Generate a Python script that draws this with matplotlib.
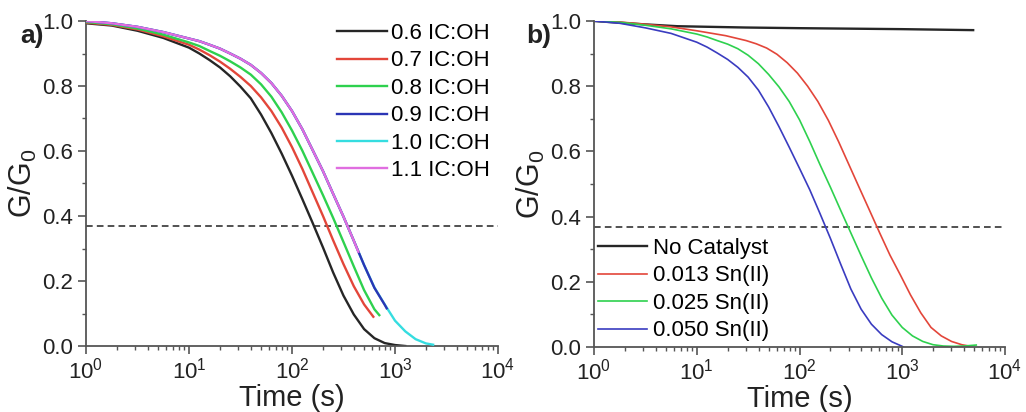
import matplotlib
matplotlib.use("Agg")
import matplotlib.pyplot as plt
from matplotlib.ticker import LogLocator, MultipleLocator, LogFormatterSciNotation, NullFormatter

plt.rcParams['font.family'] = ['Liberation Sans', 'DejaVu Sans']
plt.rcParams['mathtext.fontset'] = 'custom'
plt.rcParams['mathtext.rm'] = 'Liberation Sans'
plt.rcParams['mathtext.it'] = 'Liberation Sans:italic'

# ---------------- Panel a data (time in s, G/G0) ----------------
t_06 = [1, 1.78, 3.16, 5.62, 10, 12.6, 15.8, 20, 25.1, 31.6, 39.8, 50.1, 63.1, 79.4, 100, 126, 158, 200, 251, 316, 398, 501, 631, 794, 1000, 1259]
g_06 = [0.993, 0.986, 0.970, 0.948, 0.918, 0.900, 0.880, 0.857, 0.830, 0.798, 0.762, 0.712, 0.655, 0.592, 0.524, 0.452, 0.380, 0.303, 0.226, 0.155, 0.097, 0.052, 0.024, 0.009, 0.003, 0.0]

t_07 = [1, 1.78, 3.16, 5.62, 10, 12.6, 15.8, 20, 25.1, 31.6, 39.8, 50.1, 63.1, 79.4, 100, 126, 158, 200, 251, 316, 398, 501, 616]
g_07 = [0.995, 0.988, 0.974, 0.953, 0.927, 0.912, 0.895, 0.875, 0.853, 0.828, 0.800, 0.765, 0.723, 0.672, 0.612, 0.545, 0.474, 0.400, 0.325, 0.252, 0.184, 0.128, 0.090]

t_08 = [1, 1.78, 3.16, 5.62, 10, 12.6, 15.8, 20, 25.1, 31.6, 39.8, 50.1, 63.1, 79.4, 100, 126, 158, 200, 251, 316, 398, 501, 631, 704]
g_08 = [0.997, 0.990, 0.977, 0.958, 0.934, 0.923, 0.908, 0.893, 0.876, 0.857, 0.835, 0.805, 0.767, 0.719, 0.663, 0.601, 0.534, 0.464, 0.394, 0.320, 0.245, 0.172, 0.113, 0.095]

t_09 = [1, 1.78, 3.16, 5.62, 10, 12.6, 15.8, 20, 25.1, 31.6, 39.8, 50.1, 63.1, 79.4, 100, 126, 158, 200, 251, 316, 398, 501, 631, 794, 830]
g_09 = [1.0, 0.993, 0.982, 0.966, 0.946, 0.938, 0.927, 0.915, 0.900, 0.884, 0.865, 0.840, 0.809, 0.770, 0.723, 0.667, 0.604, 0.538, 0.468, 0.398, 0.324, 0.249, 0.179, 0.127, 0.116]

t_10 = [1, 1.78, 3.16, 5.62, 10, 12.6, 15.8, 20, 25.1, 31.6, 39.8, 50.1, 63.1, 79.4, 100, 126, 158, 200, 251, 316, 398, 501, 631, 794, 1000, 1259, 1585, 1995, 2344]
g_10 = [1.0, 0.993, 0.982, 0.966, 0.946, 0.938, 0.927, 0.915, 0.900, 0.884, 0.865, 0.840, 0.809, 0.770, 0.723, 0.667, 0.604, 0.538, 0.468, 0.398, 0.324, 0.249, 0.180, 0.128, 0.078, 0.045, 0.021, 0.008, 0.004]

t_11 = [1, 1.78, 3.16, 5.62, 10, 12.6, 15.8, 20, 25.1, 31.6, 39.8, 50.1, 63.1, 79.4, 100, 126, 158, 200, 251, 316, 398, 440]
g_11 = [1.0, 0.993, 0.982, 0.966, 0.946, 0.938, 0.927, 0.915, 0.900, 0.884, 0.865, 0.840, 0.809, 0.770, 0.723, 0.667, 0.604, 0.538, 0.468, 0.398, 0.324, 0.290]

labels_a = ["0.6 IC:OH", "0.7 IC:OH", "0.8 IC:OH", "0.9 IC:OH", "1.0 IC:OH", "1.1 IC:OH"]
colors_a = ["#262626", "#e3463a", "#2ed14e", "#2b35b5", "#35dde0", "#e06ee0"]

# ---------------- Panel b data ----------------
t_nocat = [1, 3, 6.5, 30, 100, 1000, 4900]
g_nocat = [1.0, 0.990, 0.984, 0.980, 0.978, 0.975, 0.972]

t_013 = [1, 1.78, 3.16, 5.62, 10, 19.1, 30.2, 38, 47.9, 60.3, 75.9, 95.5, 120, 151, 191, 240, 302, 380, 479, 603, 759, 955, 1202, 1514, 1905, 2399, 3020, 3802, 4467]
g_013 = [1.0, 0.997, 0.990, 0.982, 0.970, 0.955, 0.940, 0.930, 0.917, 0.898, 0.872, 0.840, 0.800, 0.753, 0.695, 0.630, 0.560, 0.490, 0.420, 0.350, 0.282, 0.222, 0.160, 0.105, 0.060, 0.034, 0.017, 0.007, 0.003]

t_025 = [1, 1.78, 3.16, 5.62, 10, 12.6, 15.8, 20, 25.1, 31.6, 39.8, 50.1, 63.1, 79.4, 100, 126, 158, 200, 251, 316, 398, 501, 631, 794, 1000, 1259, 1585, 1995, 2512, 3162, 3981, 5250]
g_025 = [1.0, 0.996, 0.987, 0.976, 0.960, 0.951, 0.940, 0.929, 0.915, 0.895, 0.869, 0.836, 0.798, 0.753, 0.697, 0.630, 0.560, 0.490, 0.420, 0.350, 0.280, 0.212, 0.150, 0.098, 0.060, 0.034, 0.017, 0.007, 0.003, 0.002, 0.003, 0.006]

t_050 = [1, 1.78, 3.16, 5.62, 10, 12.6, 15.8, 20, 25.1, 31.6, 39.8, 50.1, 63.1, 79.4, 100, 126, 158, 200, 251, 316, 398, 501, 631, 794, 1000, 1023]
g_050 = [1.0, 0.993, 0.979, 0.962, 0.935, 0.920, 0.902, 0.882, 0.858, 0.828, 0.788, 0.736, 0.676, 0.613, 0.548, 0.482, 0.410, 0.333, 0.255, 0.178, 0.116, 0.070, 0.038, 0.016, 0.002, 0.0]

labels_b = ["No Catalyst", "0.013 Sn(II)", "0.025 Sn(II)", "0.050 Sn(II)"]
colors_b = ["#262626", "#e3463a", "#2ed14e", "#3a3cc0"]

threshold = 0.368

fig = plt.figure(figsize=(10.26, 4.12), dpi=100)
ax1 = fig.add_axes([86/1026, 1-346/412, (498-86)/1026, (346-21)/412])
ax2 = fig.add_axes([594/1026, 1-347/412, (1005-594)/1026, (347-21)/412])

series_a = [(t_06, g_06), (t_07, g_07), (t_08, g_08), (t_09, g_09), (t_10, g_10), (t_11, g_11)]
zorders_a = [2, 3, 4, 6, 5, 7]
handles_a = []
for (t, g), c, lab, z in zip(series_a, colors_a, labels_a, zorders_a):
    h, = ax1.plot(t, g, color=c, lw=1.7, label=lab, zorder=z)
    handles_a.append(h)

series_b = [(t_nocat, g_nocat), (t_013, g_013), (t_025, g_025), (t_050, g_050)]
handles_b = []
for (t, g), c, lab in zip(series_b, colors_b, labels_b):
    lw = 1.7 if lab == "No Catalyst" else 1.2
    h, = ax2.plot(t, g, color=c, lw=lw, label=lab)
    handles_b.append(h)

for ax in (ax1, ax2):
    ax.axhline(threshold, color="#333333", lw=1.2, ls=(0, (4, 2.5)), zorder=1)
    ax.set_xscale("log")
    ax.set_xlim(1, 1e4)
    ax.set_ylim(0, 1.0)
    ax.spines["top"].set_visible(False)
    ax.spines["right"].set_visible(False)
    for s in ("left", "bottom"):
        ax.spines[s].set_color("#555555")
        ax.spines[s].set_linewidth(1.3)
    ax.xaxis.set_major_locator(LogLocator(base=10, numticks=10))
    ax.xaxis.set_minor_locator(LogLocator(base=10, subs=range(2, 10), numticks=20))
    ax.xaxis.set_major_formatter(LogFormatterSciNotation())
    ax.xaxis.set_minor_formatter(NullFormatter())
    ax.yaxis.set_major_locator(MultipleLocator(0.2))
    ax.yaxis.set_minor_locator(MultipleLocator(0.1))
    ax.yaxis.set_major_formatter(plt.FuncFormatter(lambda v, p: f"{v:.1f}"))
    ax.tick_params(which="major", direction="out", length=6, width=1.2, color="#555555",
                   labelsize=16, labelcolor="#222222")
    ax.tick_params(axis="x", which="major", pad=2.5)
    ax.tick_params(which="minor", direction="out", length=3, width=1.0, color="#555555")
    ax.set_xlabel("Time (s)", fontsize=21, color="#222222", labelpad=0)
    ax.set_ylabel("G/G$_0$", fontsize=22, color="#222222", labelpad=2)
    for sp in ax.spines.values():
        sp.set_clip_on(False)

ax1.legend(handles=handles_a, loc="upper left", bbox_to_anchor=(337/1026, 1-23/412),
           bbox_transform=fig.transFigure, frameon=False, borderpad=0, borderaxespad=0,
           fontsize=16, handlelength=2.25, handletextpad=0.18, labelspacing=0.29)
ax2.legend(handles=handles_b, loc="upper left", bbox_to_anchor=(598/1026, 1-238/412),
           bbox_transform=fig.transFigure, frameon=False, borderpad=0, borderaxespad=0,
           fontsize=16, handlelength=2.2, handletextpad=0.27, labelspacing=0.29)

fig.text(20/1026, 1-36/412, "a)", fontsize=19, fontweight="bold", va="center", ha="left", color="#222222")
fig.text(526/1026, 1-36/412, "b)", fontsize=19, fontweight="bold", va="center", ha="left", color="#222222")

fig.savefig("out.png", dpi=100)
